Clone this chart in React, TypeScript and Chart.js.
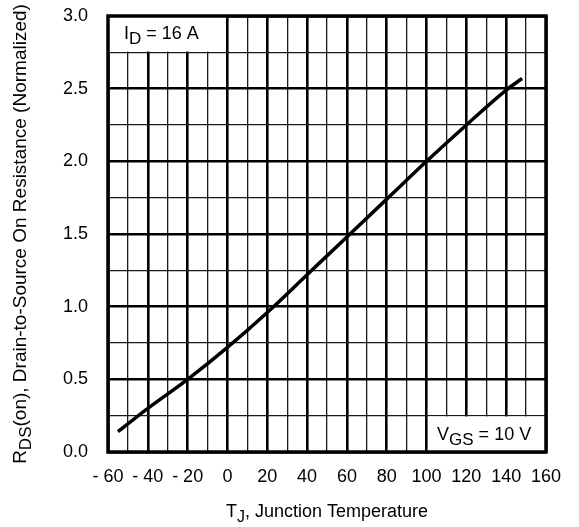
import { useEffect, useRef } from "react";
import { Chart, registerables } from "chart.js";

Chart.register(...registerables);

// Normalized on-resistance vs. junction temperature (ID = 16 A, VGS = 10 V)
const temperatures = [-55, -40, -20, 0, 20, 40, 60, 80, 100, 120, 140, 148];
const resistance = [0.14, 0.3, 0.5, 0.72, 0.96, 1.22, 1.48, 1.74, 2.0, 2.25, 2.49, 2.57];

const xMin = -60;
const xMax = 160;
const xMajor = 20;
const xMinor = 10;
const yMin = 0;
const yMax = 3;
const yMajor = 0.5;
const yMinor = 0.25;

const FONT = '"Liberation Sans", Arial, Helvetica, sans-serif';

type Part = { text: string; sub?: boolean };

function drawRich(
  ctx: CanvasRenderingContext2D,
  parts: Part[],
  x: number,
  y: number,
  size: number,
  subSize: number,
  subDrop: number,
  align: "left" | "center"
) {
  const widths = parts.map((p) => {
    ctx.font = `${p.sub ? subSize : size}px ${FONT}`;
    return ctx.measureText(p.text).width;
  });
  const total = widths.reduce((a, b) => a + b, 0);
  let cx = align === "center" ? x - total / 2 : x;
  ctx.textAlign = "left";
  ctx.textBaseline = "alphabetic";
  ctx.fillStyle = "#000";
  parts.forEach((p, i) => {
    ctx.font = `${p.sub ? subSize : size}px ${FONT}`;
    ctx.fillText(p.text, cx, y + (p.sub ? subDrop : 0));
    cx += widths[i];
  });
}

const isMultiple = (v: number, step: number) =>
  Math.abs(v / step - Math.round(v / step)) < 1e-6;

const annotations = {
  id: "annotations",
  beforeDatasetsDraw(chart: any) {
    const { ctx } = chart;
    const xs = chart.scales.x;
    const ys = chart.scales.y;
    ctx.save();
    ctx.fillStyle = "#fff";

    // current box, top-left cell
    const b1l = xs.getPixelForValue(-60);
    const b1r = xs.getPixelForValue(0) - 1.5;
    const b1t = ys.getPixelForValue(3);
    const b1b = ys.getPixelForValue(2.75) - 0.8;
    ctx.fillRect(b1l, b1t, b1r - b1l, b1b - b1t);
    drawRich(
      ctx,
      [{ text: "I" }, { text: "D", sub: true }, { text: " = 16 A" }],
      b1l + 16,
      b1t + 23,
      18,
      17,
      5,
      "left"
    );

    // gate voltage box, bottom-right cell
    ctx.fillStyle = "#fff";
    const b2l = xs.getPixelForValue(100) + 1.5;
    const b2r = xs.getPixelForValue(160);
    const b2t = ys.getPixelForValue(0.25) + 0.8;
    const b2b = ys.getPixelForValue(0);
    ctx.fillRect(b2l, b2t, b2r - b2l, b2b - b2t);
    drawRich(
      ctx,
      [{ text: "V" }, { text: "GS", sub: true }, { text: " = 10 V" }],
      b2l + 9,
      b2b - 12,
      18,
      17,
      5,
      "left"
    );
    ctx.restore();
  },
  afterDatasetsDraw(chart: any) {
    const { ctx, chartArea } = chart;
    ctx.save();
    ctx.strokeStyle = "#000";
    ctx.lineWidth = 3.5;
    ctx.strokeRect(
      chartArea.left,
      chartArea.top,
      chartArea.right - chartArea.left,
      chartArea.bottom - chartArea.top
    );
    ctx.restore();
  },
  afterDraw(chart: any) {
    const { ctx, chartArea } = chart;
    ctx.save();
    // x-axis title
    drawRich(
      ctx,
      [{ text: "T" }, { text: "J", sub: true }, { text: ", Junction Temperature" }],
      (chartArea.left + chartArea.right) / 2,
      517,
      18,
      16,
      5,
      "center"
    );
    // y-axis title
    ctx.translate(26, (chartArea.top + chartArea.bottom) / 2);
    ctx.rotate(-Math.PI / 2);
    drawRich(
      ctx,
      [
        { text: "R" },
        { text: "DS", sub: true },
        { text: "(on), Drain-to-Source On Resistance (Normalized)" },
      ],
      0,
      0,
      19,
      17,
      5,
      "center"
    );
    ctx.restore();
  },
};

export default function App() {
  const canvasRef = useRef<HTMLCanvasElement | null>(null);

  useEffect(() => {
    const canvas = canvasRef.current;
    if (!canvas) return;
    const points = temperatures.map((t, i) => ({ x: t, y: resistance[i] }));

    const chart = new Chart(canvas, {
      type: "line",
      data: {
        datasets: [
          {
            data: points,
            borderColor: "#000",
            borderWidth: 3.5,
            pointRadius: 0,
            cubicInterpolationMode: "monotone",
            fill: false,
          },
        ],
      },
      options: {
        animation: false,
        responsive: false,
        devicePixelRatio: 1,
        layout: { padding: { top: 16, right: 33, bottom: 0, left: 0 } },
        plugins: {
          legend: { display: false },
          tooltip: { enabled: false },
        },
        scales: {
          x: {
            type: "linear",
            min: xMin,
            max: xMax,
            afterFit: (scale: any) => {
              scale.height = 75;
              scale.paddingLeft = 0;
              scale.paddingRight = 0;
            },
            border: { display: false },
            grid: {
              drawTicks: false,
              color: (c: any) => (isMultiple(c.tick.value, xMajor) ? "#000" : "#1a1a1a"),
              lineWidth: (c: any) => (isMultiple(c.tick.value, xMajor) ? 2.6 : 1.3),
            },
            ticks: {
              stepSize: xMinor,
              autoSkip: false,
              maxRotation: 0,
              padding: 14,
              color: "#000",
              font: { family: FONT, size: 18 },
              callback: (v: any) => {
                const n = Number(v);
                if (!isMultiple(n, xMajor)) return "";
                return n < 0 ? "- " + Math.abs(n) : String(n);
              },
            },
          },
          y: {
            type: "linear",
            min: yMin,
            max: yMax,
            afterFit: (scale: any) => {
              scale.width = 108;
              scale.paddingTop = 0;
              scale.paddingBottom = 0;
            },
            border: { display: false },
            grid: {
              drawTicks: false,
              color: (c: any) => (isMultiple(c.tick.value, yMajor) ? "#000" : "#1a1a1a"),
              lineWidth: (c: any) => (isMultiple(c.tick.value, yMajor) ? 2.6 : 1.3),
            },
            ticks: {
              stepSize: yMinor,
              autoSkip: false,
              padding: 20,
              color: "#000",
              font: { family: FONT, size: 18 },
              callback: (v: any) => {
                const n = Number(v);
                return isMultiple(n, yMajor) ? n.toFixed(1) : "";
              },
            },
          },
        },
      },
      plugins: [annotations],
    });

    return () => chart.destroy();
  }, []);

  return (
    <canvas
      ref={canvasRef}
      width={579}
      height={527}
      style={{ position: "fixed", left: 0, top: 0, display: "block", background: "#fff" }}
    />
  );
}
